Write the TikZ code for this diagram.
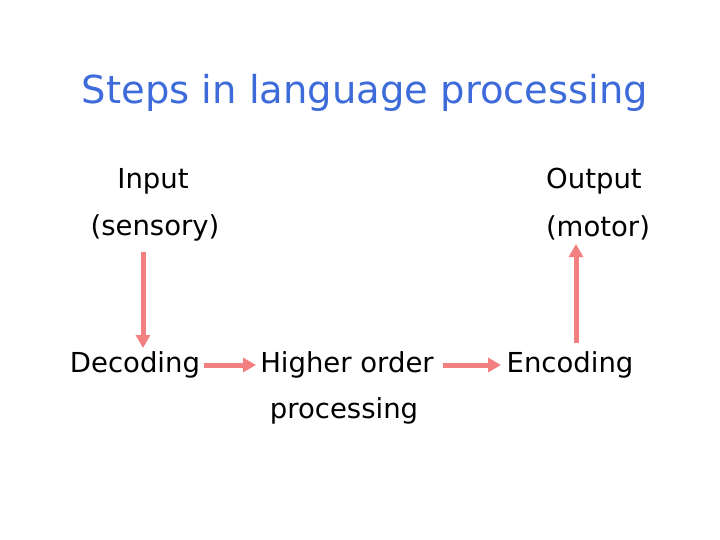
\documentclass[tikz,border=0pt]{standalone}
\usepackage{fontspec}
\setmainfont{DejaVu Sans}
\usetikzlibrary{arrows.meta}
\definecolor{ttl}{HTML}{3D6BD9}
\definecolor{arr}{HTML}{F28080}
\begin{document}
\begin{tikzpicture}[x=1pt,y=-1pt,
  txt/.style={font=\fontsize{27.5}{33}\selectfont,inner sep=0pt,anchor=center},
  con/.style={arr,line width=5pt,-{Triangle[length=13pt,width=14pt]}}]
\useasboundingbox (0,0) rectangle (720,540);
\node[font=\fontsize{38.5}{46}\selectfont,text=ttl,inner sep=0pt] (t) at (365,93) {Steps in language processing};
\node[txt] (in) at (153,181) {Input};
\node[txt] (sen) at (155,228) {(sensory)};
\node[txt] (out) at (594,181) {Output};
\node[txt] (mot) at (598,228) {(motor)};
\node[txt] (dec) at (135,365) {Decoding};
\node[txt] (hi) at (347,365) {Higher order};
\node[txt] (pr) at (344,411) {processing};
\node[txt] (enc) at (570,365) {Encoding};
\coordinate (a1) at (143,252); \coordinate (a2) at (143,348);
\coordinate (b1) at (204,365); \coordinate (b2) at (256,365);
\coordinate (d1) at (443,365); \coordinate (d2) at (501,365);
\coordinate (c1) at (576,343); \coordinate (c2) at (576,244);
\draw[con] (a1) -- (a2);
\draw[con] (b1) -- (b2);
\draw[con] (d1) -- (d2);
\draw[con] (c1) -- (c2);
\end{tikzpicture}
\end{document}
